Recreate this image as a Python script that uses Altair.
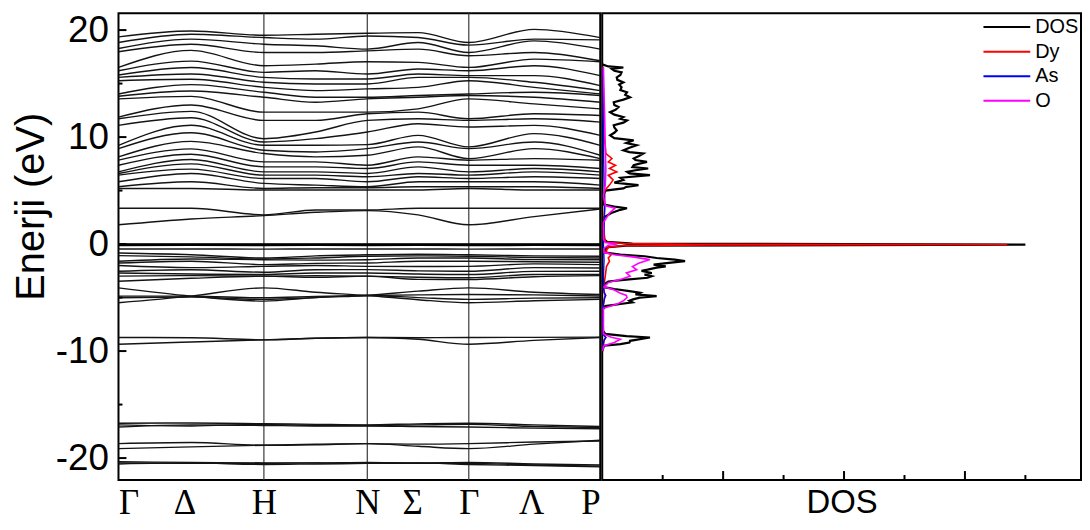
import altair as alt
import pandas as pd

# ---------------- data ----------------
K_POINTS = [0.0, 0.495, 0.99, 1.342, 1.694, 2.04, 2.385, 2.83, 3.28]   # Γ, ΓH, H, HN, N, NΓ, Γ, ΓP, P
K_LABEL_POS = [0.0, 0.45, 0.99, 1.694, 2.0, 2.385, 2.81, 3.28]
K_LABELS = ["Γ", "Δ", "H", "N", "Σ", "Γ", "Λ", "P"]
HSYM_LINES = [0.99, 1.694, 2.385]

CONDUCTION = [
    [19.36, 19.92, 19.52, 19.61, 19.70, 19.76, 18.84, 20.07, 19.30],
    [18.84, 19.61, 19.30, 19.15, 19.45, 19.30, 18.59, 19.15, 19.08],
    [18.28, 19.15, 18.68, 18.53, 18.22, 18.84, 17.91, 18.99, 18.22],
    [17.97, 18.68, 17.91, 17.91, 18.06, 18.22, 17.60, 17.91, 17.13],
    [16.51, 18.10, 16.67, 16.82, 17.04, 16.98, 16.51, 17.29, 17.04],
    [16.20, 17.10, 16.05, 16.20, 15.89, 16.36, 16.20, 16.67, 15.74],
    [15.80, 16.50, 15.58, 15.43, 15.43, 15.89, 15.74, 15.74, 14.81],
    [15.58, 15.90, 15.12, 14.96, 14.96, 15.58, 15.58, 15.12, 14.34],
    [15.27, 15.40, 14.65, 14.34, 14.50, 14.65, 15.27, 14.65, 14.03],
    [14.03, 14.90, 14.19, 13.72, 13.72, 13.88, 14.03, 14.19, 13.88],
    [13.82, 14.30, 13.72, 13.26, 13.57, 13.72, 13.88, 13.72, 13.26],
    [13.57, 13.80, 12.33, 12.33, 12.33, 12.64, 13.57, 13.10, 12.64],
    [11.87, 13.00, 11.56, 11.56, 12.18, 12.33, 11.71, 12.18, 12.02],
    [11.71, 12.40, 9.85, 10.47, 11.56, 11.71, 11.56, 11.71, 11.40],
    [11.09, 11.80, 9.54, 9.85, 10.47, 11.25, 10.94, 11.09, 10.16],
    [9.23, 11.10, 9.23, 9.23, 9.29, 10.16, 9.08, 10.32, 9.23],
    [8.92, 10.40, 8.77, 8.61, 8.92, 9.54, 8.92, 9.54, 8.30],
    [8.15, 9.60, 8.46, 8.15, 8.30, 9.08, 7.99, 8.92, 7.99],
    [7.84, 8.90, 7.68, 7.68, 7.37, 8.15, 7.84, 7.99, 7.84],
    [7.37, 8.40, 7.22, 7.22, 7.06, 7.68, 7.37, 7.37, 7.06],
    [6.75, 7.90, 6.75, 6.75, 6.60, 7.22, 6.75, 7.06, 6.75],
    [6.60, 7.50, 6.44, 6.44, 6.29, 6.60, 6.44, 6.75, 6.44],
    [6.44, 7.00, 6.13, 6.13, 5.82, 6.29, 6.13, 6.29, 6.13],
    [5.82, 6.60, 5.67, 5.51, 5.36, 5.82, 5.82, 5.82, 5.51],
    [5.36, 5.82, 5.20, 5.27, 5.27, 5.36, 5.36, 5.36, 5.20],
    [5.20, 5.20, 5.05, 5.05, 5.05, 5.05, 5.20, 5.05, 5.05],
    [3.35, 3.35, 2.73, 3.19, 3.19, 3.35, 3.35, 3.35, 3.35],
    [1.80, 2.35, 2.66, 2.97, 3.13, 2.73, 1.80, 2.57, 3.28],
]

FERMI_BANDS = [
    [0.00, 0.00, 0.00, 0.00, 0.00, 0.00, 0.00, 0.00, 0.00],
    [-0.06, -0.06, -0.06, -0.06, -0.06, -0.06, -0.06, -0.06, -0.06],
    [-0.11, -0.10, -0.11, -0.10, -0.11, -0.10, -0.11, -0.10, -0.11],
]
SEMI_FLAT = [[-0.46, -0.46, -0.47, -0.46, -0.46, -0.46, -0.47, -0.46, -0.46]]

VALENCE = [
    [-0.84, -1.00, -1.30, -1.10, -1.00, -0.95, -1.00, -1.10, -1.14],
    [-1.08, -1.20, -1.39, -1.30, -1.14, -1.10, -1.14, -1.25, -1.30],
    [-1.61, -1.40, -1.46, -1.50, -1.46, -1.30, -1.30, -1.45, -1.46],
    [-1.77, -1.60, -1.92, -1.80, -1.77, -1.60, -1.61, -1.65, -1.70],
    [-2.00, -2.20, -2.08, -2.00, -2.08, -2.10, -2.08, -1.85, -1.92],
    [-2.54, -2.40, -2.63, -2.40, -2.39, -2.50, -2.54, -2.20, -2.23],
    [-2.70, -2.80, -2.85, -2.70, -2.70, -2.80, -2.85, -2.55, -2.54],
    [-3.00, -2.95, -3.00, -2.95, -3.00, -3.10, -3.15, -2.85, -2.85],
    [-3.47, -3.20, -3.00, -3.10, -3.00, -3.30, -3.31, -3.05, -2.95],
    [-4.09, -4.86, -5.33, -5.00, -4.80, -4.40, -4.09, -4.50, -4.71],
    [-4.86, -4.86, -5.02, -4.90, -4.80, -4.75, -4.71, -4.75, -4.86],
    [-5.02, -4.95, -5.17, -5.00, -4.80, -5.00, -5.17, -5.05, -5.02],
    [-5.48, -4.86, -4.09, -4.50, -4.80, -5.20, -5.48, -5.30, -5.17],
    [-8.73, -8.76, -8.95, -8.80, -8.73, -8.90, -9.36, -9.00, -8.73],
    [-9.36, -9.15, -8.95, -8.80, -8.73, -8.75, -8.73, -8.72, -8.70],
]

SEMICORE = [
    [-16.75, -16.72, -16.79, -16.85, -16.90, -16.80, -16.75, -16.90, -17.05],
    [-16.90, -17.00, -16.85, -16.95, -16.95, -16.90, -16.85, -17.05, -17.15],
    [-17.10, -16.90, -16.95, -17.00, -17.00, -17.05, -17.10, -17.20, -17.26],
    [-18.65, -18.55, -18.80, -18.75, -18.65, -18.90, -19.12, -18.70, -18.34],
    [-19.12, -18.95, -18.80, -18.70, -18.65, -18.70, -18.65, -18.50, -18.40],
    [-20.35, -20.40, -20.45, -20.45, -20.40, -20.45, -20.40, -20.55, -20.65],
    [-20.45, -20.50, -20.50, -20.45, -20.50, -20.50, -20.50, -20.65, -20.75],
    [-20.55, -20.45, -20.60, -20.55, -20.50, -20.45, -20.60, -20.70, -20.82],
]

TOTAL_DOS = [
    (-10.0, 0.0), (-9.5, 0.03), (-9.35, 0.3), (-9.2, 0.45), (-9.04, 0.46), (-8.73, 0.79),
    (-8.6, 0.4), (-8.4, 0.05), (-8.0, 0.0), (-6.2, 0.0), (-5.8, 0.05), (-5.6, 0.3),
    (-5.45, 0.5), (-5.3, 0.45), (-5.17, 0.51), (-5.0, 0.62), (-4.86, 0.9), (-4.7, 0.55),
    (-4.55, 0.62), (-4.4, 0.45), (-4.2, 0.2), (-4.05, 0.05), (-3.8, 0.02), (-3.5, 0.1),
    (-3.33, 0.4), (-3.15, 0.75), (-3.0, 0.82), (-2.85, 0.7), (-2.7, 0.82), (-2.5, 0.65),
    (-2.39, 0.75), (-2.2, 0.9), (-2.08, 1.05), (-1.92, 0.85), (-1.75, 1.1), (-1.6, 1.37),
    (-1.45, 1.2), (-1.3, 0.9), (-1.14, 0.7), (-0.99, 0.3), (-0.8, 0.05), (-0.5, 0.04),
    (-0.3, 0.1), (-0.15, 0.4), (-0.05, 7.0), (0.05, 0.5), (0.2, 0.08), (0.5, 0.02),
    (1.5, 0.02), (2.5, 0.03), (2.9, 0.15), (3.2, 0.3), (3.35, 0.41), (3.5, 0.2),
    (3.7, 0.03), (4.5, 0.02), (5.0, 0.05), (5.2, 0.35), (5.35, 0.4), (5.51, 0.6),
    (5.75, 0.2), (5.98, 0.35), (6.2, 0.3), (6.44, 0.79), (6.6, 0.45), (6.75, 0.41),
    (6.9, 0.55), (7.06, 0.76), (7.2, 0.5), (7.37, 0.52), (7.5, 0.6), (7.68, 0.74),
    (7.85, 0.55), (8.0, 0.52), (8.2, 0.6), (8.46, 0.68), (8.6, 0.45), (8.77, 0.35),
    (9.0, 0.45), (9.23, 0.57), (9.45, 0.4), (9.7, 0.52), (9.9, 0.2), (10.16, 0.13),
    (10.4, 0.2), (10.63, 0.24), (10.9, 0.2), (11.1, 0.19), (11.35, 0.35), (11.56, 0.41),
    (11.7, 0.3), (11.87, 0.35), (12.1, 0.2), (12.33, 0.13), (12.55, 0.22), (12.8, 0.27),
    (13.0, 0.2), (13.26, 0.19), (13.5, 0.35), (13.72, 0.46), (13.95, 0.38), (14.19, 0.41),
    (14.4, 0.3), (14.65, 0.32), (14.9, 0.28), (15.12, 0.35), (15.35, 0.25), (15.58, 0.24),
    (15.8, 0.3), (16.05, 0.32), (16.2, 0.2), (16.36, 0.16), (16.5, 0.35), (16.6, 0.1),
    (16.8, 0.0),
]

DY_DOS = [
    (-10.0, 0.0), (-9.0, 0.03), (-8.73, 0.06), (-8.4, 0.02), (-6.0, 0.01), (-5.2, 0.03),
    (-4.86, 0.05), (-4.2, 0.02), (-3.0, 0.05), (-2.1, 0.07), (-1.6, 0.12), (-1.3, 0.1),
    (-1.0, 0.15), (-0.7, 0.06), (-0.3, 0.1), (-0.15, 0.3), (-0.08, 1.8), (-0.04, 6.7),
    (-0.01, 1.5), (0.05, 0.35), (0.2, 0.05), (1.5, 0.02), (3.35, 0.04), (5.0, 0.04),
    (5.51, 0.12), (6.0, 0.18), (6.44, 0.1), (6.75, 0.24), (7.06, 0.12), (7.37, 0.22),
    (7.68, 0.1), (8.0, 0.16), (8.46, 0.06), (9.2, 0.05), (10.0, 0.03), (12.0, 0.02),
    (14.0, 0.02), (16.6, 0.01),
]

AS_DOS = [
    (-10.0, 0.0), (-9.0, 0.03), (-8.73, 0.06), (-8.4, 0.01), (-6.0, 0.01), (-5.0, 0.04),
    (-4.8, 0.06), (-4.5, 0.03), (-3.0, 0.02), (-1.5, 0.03), (0.0, 0.02), (3.3, 0.04),
    (6.0, 0.03), (9.0, 0.02), (16.5, 0.01),
]

O_DOS = [
    (-10.0, 0.0), (-9.5, 0.03), (-9.2, 0.2), (-8.9, 0.3), (-8.7, 0.15), (-8.4, 0.02),
    (-6.0, 0.02), (-5.6, 0.25), (-5.3, 0.35), (-5.0, 0.41), (-4.8, 0.4), (-4.6, 0.3),
    (-4.3, 0.2), (-4.0, 0.03), (-3.6, 0.1), (-3.3, 0.3), (-3.0, 0.46), (-2.7, 0.4),
    (-2.4, 0.57), (-2.1, 0.5), (-1.8, 0.6), (-1.45, 0.79), (-1.2, 0.5), (-1.0, 0.2),
    (-0.8, 0.03), (-0.4, 0.03), (-0.1, 0.1), (0.0, 0.25), (0.15, 0.05), (0.5, 0.02),
    (2.0, 0.02), (2.9, 0.12), (3.35, 0.21), (3.6, 0.05), (4.5, 0.02), (5.5, 0.05),
    (7.0, 0.06), (9.0, 0.05), (12.0, 0.04), (14.0, 0.03), (16.5, 0.02),
]

SPECIES = ["DOS", "Dy", "As", "O"]
SPECIES_COLORS = ["#000000", "#ff0000", "#0000ff", "#ff00ff"]

Y_MAJOR = [-20, -10, 0, 10, 20]
Y_MINOR = [-15, -5, 5, 15]
DOS_MAJOR = [2, 4, 6]
DOS_MINOR = [1, 3, 5, 7]

# ---------------- tables ----------------
def band_rows(bands, prefix):
    rows = []
    for i, b in enumerate(bands):
        for k, e in zip(K_POINTS, b):
            rows.append({"band": f"{prefix}{i}", "k": k, "E": e})
    return rows

df_bands = pd.DataFrame(band_rows(CONDUCTION, "c") + band_rows(VALENCE, "v")
                        + band_rows(SEMICORE, "s") + band_rows(SEMI_FLAT, "f"))
df_fermi = pd.DataFrame(band_rows(FERMI_BANDS, "F"))
df_hsym = pd.DataFrame({"k": HSYM_LINES})
df_ymaj = pd.DataFrame({"E": Y_MAJOR})
df_ymin = pd.DataFrame({"E": Y_MINOR})
df_dmaj = pd.DataFrame({"dos": DOS_MAJOR})
df_dmin = pd.DataFrame({"dos": DOS_MINOR})
df_legend = pd.DataFrame({"species": SPECIES})

def dos_df(pairs, name):
    return pd.DataFrame({"E": [p[0] for p in pairs], "dos": [p[1] for p in pairs], "species": name})

dos_frames = {"DOS": dos_df(TOTAL_DOS, "DOS"), "Dy": dos_df(DY_DOS, "Dy"),
              "As": dos_df(AS_DOS, "As"), "O": dos_df(O_DOS, "O")}

# ---------------- scales / axes ----------------
H = 469
W_LEFT = 484
W_RIGHT = 481
y_scale = alt.Scale(domain=[-22.05, 21.58], nice=False, zero=False)
k_scale = alt.Scale(domain=[0, 3.28], nice=False, zero=False)
d_scale = alt.Scale(domain=[0, 7.92], nice=False, zero=False)
color_scale = alt.Scale(domain=SPECIES, range=SPECIES_COLORS)

SANS = "Liberation Sans"

label_expr = ("['" + "','".join(K_LABELS) + "'][indexof(["
              + ",".join(str(v) for v in K_LABEL_POS) + "], datum.value)]")

x_axis_left = alt.Axis(values=K_LABEL_POS, labelExpr=label_expr, title=None, grid=False,
                       ticks=False, tickSize=0, domain=False, labelFontSize=35,
                       labelFont={"condition": {"test": "datum.label == 'P'", "value": SANS},
                                  "value": "Liberation Serif"},
                       labelFlush=True, labelPadding=6, labelColor="black", labelBaseline="top")
y_axis_left = alt.Axis(values=Y_MAJOR, title="Enerji (eV)", grid=False, ticks=False, tickSize=0,
                       domain=False, labelFontSize=37, labelFont=SANS, labelColor="black",
                       labelPadding=10,
                       labelExpr="datum.value < 0 ? '-' + abs(datum.value) : '' + datum.value",
                       titleFontSize=40, titleFont=SANS, titleFontWeight="normal",
                       titleColor="black", titleX=-87, titleY=194, titleAngle=270,
                       titleBaseline="middle", titleAlign="center")

X_L = alt.X("k:Q", scale=k_scale, axis=x_axis_left)
Y_L = alt.Y("E:Q", scale=y_scale, axis=y_axis_left)

bands = alt.Chart(df_bands).mark_line(interpolate="monotone", strokeWidth=1.4,
                                      color="#141414", clip=True).encode(
    x=X_L, y=Y_L, detail="band:N")
fermi = alt.Chart(df_fermi).mark_line(strokeWidth=1.9, color="black", clip=True).encode(
    x=X_L, y=Y_L, detail="band:N")
hsym = alt.Chart(df_hsym).mark_rule(color="#3a3a3a", strokeWidth=1.2).encode(x=X_L)
ytick_major = alt.Chart(df_ymaj).mark_rule(color="black", strokeWidth=2).encode(
    y=Y_L, x=alt.value(0), x2=alt.value(8))
ytick_minor = alt.Chart(df_ymin).mark_rule(color="black", strokeWidth=2).encode(
    y=Y_L, x=alt.value(0), x2=alt.value(4))

left = alt.layer(hsym, bands, fermi, ytick_major, ytick_minor).properties(width=W_LEFT, height=H)

x_axis_right = alt.Axis(title="DOS", labels=False, ticks=False, tickSize=0, domain=False, grid=False,
                        titleFontSize=33, titleFont=SANS, titleFontWeight="normal",
                        titleColor="black", titlePadding=7)
X_R = alt.X("dos:Q", scale=d_scale, axis=x_axis_right)
Y_R = alt.Y("E:Q", scale=y_scale, axis=None)
C_R = alt.Color("species:N", scale=color_scale, legend=None)

dos_layers = []
widths = {"DOS": 2.2, "Dy": 1.6, "As": 1.4, "O": 1.6}
for name in SPECIES:
    dos_layers.append(
        alt.Chart(dos_frames[name]).mark_line(strokeWidth=widths[name], clip=True).encode(
            x=X_R, y=Y_R, order=alt.Order("E:Q"), color=C_R)
    )
dtick_major = alt.Chart(df_dmaj).mark_rule(color="black", strokeWidth=2).encode(
    x=X_R, y=alt.value(H - 9), y2=alt.value(H))
dtick_minor = alt.Chart(df_dmin).mark_rule(color="black", strokeWidth=2).encode(
    x=X_R, y=alt.value(H - 5), y2=alt.value(H))

# legend drawn as marks (rows placed by a point scale over the species)
Y_LEG = alt.Y("species:N", scale=alt.Scale(type="point", domain=SPECIES, range=[14, 88], padding=0),
              axis=None)
leg_lines = alt.Chart(df_legend).mark_rule(strokeWidth=2).encode(
    x=alt.value(383), x2=alt.value(430), y=Y_LEG, color=C_R)
leg_text = alt.Chart(df_legend).mark_text(align="left", baseline="middle", fontSize=20,
                                          font=SANS, color="black").encode(
    x=alt.value(435), y=Y_LEG, text="species:N")

right = alt.layer(*dos_layers, dtick_major, dtick_minor, leg_lines, leg_text).resolve_scale(
    y="independent").properties(width=W_RIGHT, height=H)

chart = alt.hconcat(left, right, spacing=0).resolve_scale(color="independent").properties(
    padding={"left": 3, "top": 0, "right": 0, "bottom": 0},
    background="white",
).configure_view(stroke="black", strokeWidth=2)

chart.save("out.html", embed_options={"renderer": "svg", "actions": False})
